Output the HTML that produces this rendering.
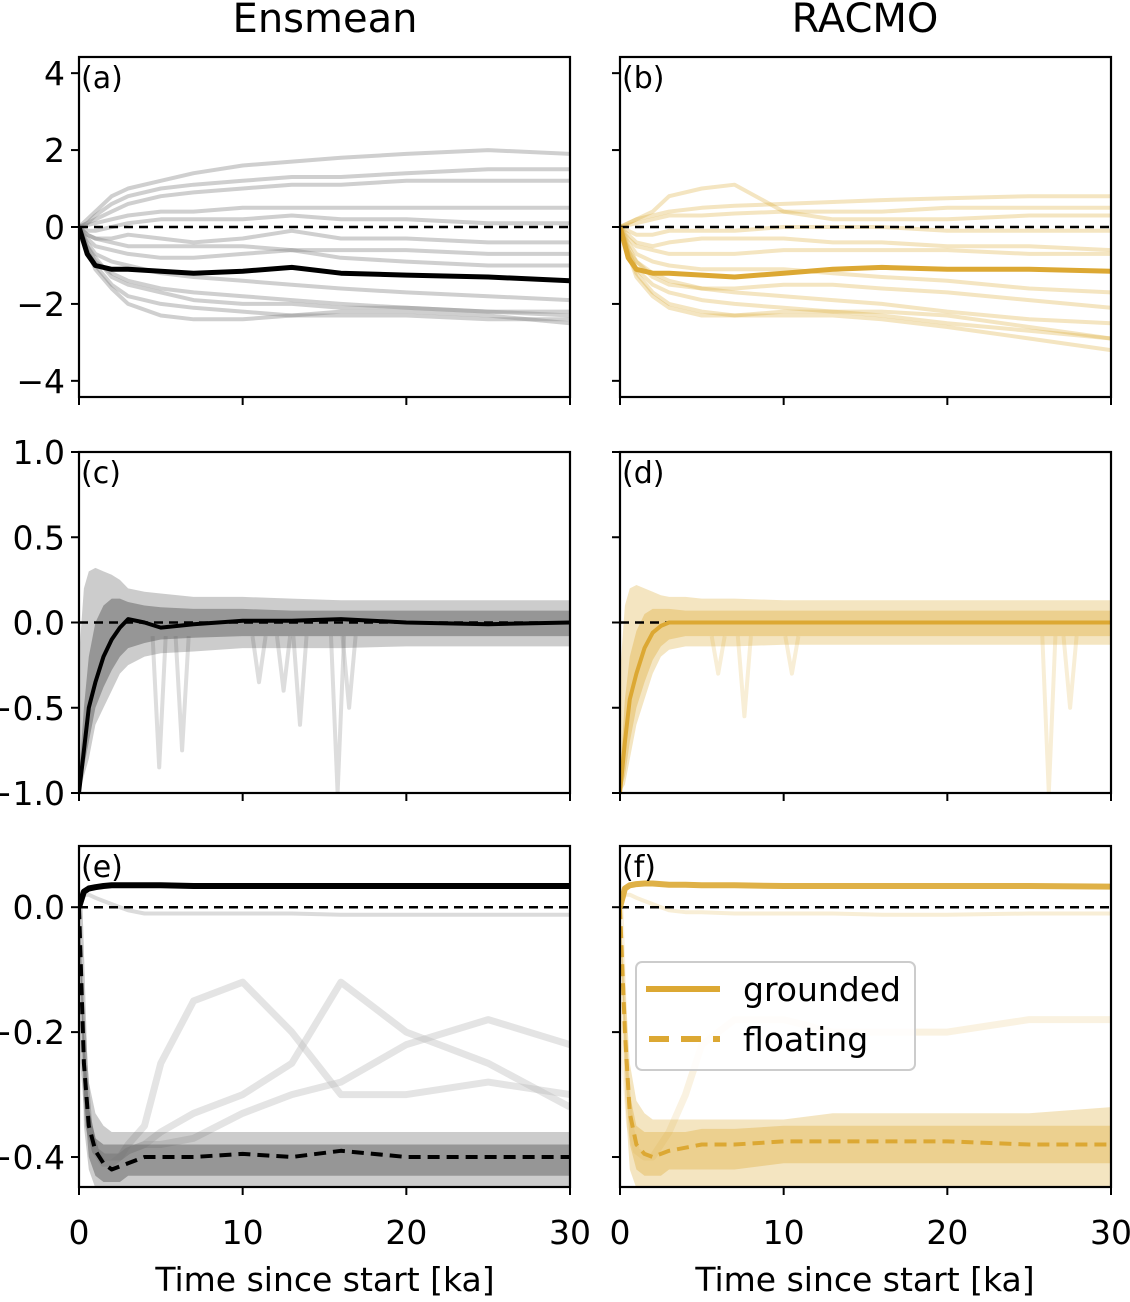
<!DOCTYPE html>
<html><head><meta charset="utf-8"><style>
body{margin:0;background:#fff}
svg text{font-family:"DejaVu Sans","Liberation Sans",sans-serif;fill:#000}
</style></head><body>
<svg id="fig" width="1130" height="1297" viewBox="0 0 1130 1297" xmlns="http://www.w3.org/2000/svg"></svg>
<script>
const xsA=[0,0.5,1,2,3,5,7,10,13,16,20,25,30];
const aMembers=[
[0,0.2,0.4,0.8,1.0,1.2,1.4,1.6,1.7,1.8,1.9,2.0,1.9],
[0,0.1,0.3,0.6,0.8,1.0,1.1,1.2,1.3,1.3,1.4,1.5,1.5],
[0,0.1,0.2,0.4,0.6,0.8,0.9,1.0,1.1,1.1,1.2,1.2,1.2],
[0,0.05,0.1,0.2,0.3,0.4,0.4,0.5,0.5,0.5,0.5,0.5,0.5],
[0,-0.1,-0.1,0,0.1,0.2,0.2,0.2,0.3,0.2,0.2,0.1,0.1],
[0,-0.2,-0.3,-0.4,-0.5,-0.5,-0.5,-0.5,-0.6,-0.6,-0.6,-0.7,-0.7],
[0,-0.3,-0.5,-0.6,-0.7,-0.8,-0.8,-0.7,-0.6,-0.8,-0.9,-1.0,-1.0],
[0,-0.4,-0.7,-0.9,-1.0,-1.2,-1.3,-1.4,-1.5,-1.6,-1.7,-1.8,-1.9],
[0,-0.5,-0.9,-1.2,-1.4,-1.6,-1.7,-1.8,-1.9,-2.0,-2.1,-2.2,-2.3],
[0,-0.6,-1.0,-1.5,-1.8,-2.0,-2.1,-2.2,-2.3,-2.3,-2.3,-2.4,-2.4],
[0,-0.6,-1.1,-1.6,-2.0,-2.3,-2.4,-2.4,-2.3,-2.2,-2.2,-2.3,-2.5],
[0,-0.2,-0.3,-0.3,-0.2,-0.3,-0.4,-0.3,-0.1,-0.3,-0.3,-0.4,-0.4],
[0,-0.5,-0.8,-1.3,-1.5,-1.7,-1.9,-2.0,-2.0,-2.1,-2.1,-2.2,-2.2]];
const aMean=[0,-0.7,-1.0,-1.1,-1.1,-1.15,-1.2,-1.15,-1.05,-1.2,-1.25,-1.3,-1.4];
const bMembers=[
[0,0.1,0.2,0.3,0.4,0.5,0.55,0.6,0.65,0.7,0.75,0.8,0.8],
[0,0.1,0.2,0.4,0.8,1.0,1.1,0.4,0.2,0.2,0.2,0.3,0.3],
[0,0.05,0.1,0.2,0.3,0.3,0.35,0.4,0.4,0.4,0.5,0.5,0.5],
[0,-0.1,-0.2,-0.2,-0.1,-0.1,-0.1,0,0,0,-0.1,-0.1,-0.1],
[0,-0.3,-0.5,-0.6,-0.7,-0.7,-0.7,-0.6,-0.6,-0.6,-0.6,-0.7,-0.7],
[0,-0.4,-0.7,-0.9,-1.0,-1.1,-1.1,-1.1,-1.2,-1.3,-1.4,-1.6,-1.7],
[0,-0.6,-0.9,-1.2,-1.4,-1.6,-1.7,-1.8,-1.9,-2.0,-2.2,-2.4,-2.5],
[0,-0.6,-1.1,-1.5,-1.7,-1.9,-2.0,-2.1,-2.2,-2.3,-2.5,-2.7,-2.9],
[0,-0.7,-1.2,-1.7,-2.0,-2.2,-2.3,-2.3,-2.3,-2.4,-2.6,-2.9,-3.2],
[0,-0.7,-1.3,-1.8,-2.1,-2.3,-2.3,-2.2,-2.2,-2.2,-2.3,-2.6,-2.9],
[0,-0.5,-0.9,-1.3,-1.5,-1.6,-1.6,-1.5,-1.5,-1.6,-1.7,-1.9,-2.1],
[0,-0.2,-0.4,-0.5,-0.4,-0.3,-0.3,-0.3,-0.4,-0.4,-0.5,-0.5,-0.6]];
const bMean=[0,-0.8,-1.1,-1.2,-1.2,-1.25,-1.3,-1.2,-1.1,-1.05,-1.1,-1.1,-1.15];
const xsN=[0,0.3,0.6,1,1.5,2,2.5,3,4,5,7,10,13,16,20,25,30];
const cMean=[-1.0,-0.75,-0.5,-0.35,-0.2,-0.1,-0.03,0.02,0.0,-0.03,-0.01,0.01,0.01,0.02,0,-0.01,0];
const cUpper=[-0.2,0.2,0.3,0.32,0.3,0.28,0.25,0.2,0.18,0.17,0.15,0.15,0.14,0.13,0.13,0.13,0.13];
const cLower=[-1.0,-0.9,-0.8,-0.6,-0.5,-0.4,-0.3,-0.25,-0.2,-0.18,-0.17,-0.15,-0.15,-0.15,-0.14,-0.14,-0.14];
const cInUp=[-0.9,-0.5,-0.2,0.0,0.1,0.14,0.14,0.12,0.1,0.09,0.08,0.08,0.07,0.07,0.07,0.07,0.07];
const cInLo=[-1.0,-0.85,-0.7,-0.5,-0.38,-0.28,-0.2,-0.15,-0.12,-0.1,-0.09,-0.08,-0.08,-0.08,-0.08,-0.08,-0.08];
const cSpikeX=[4.9,6.3,11,12.5,13.5,15.8,16.5];
const cSpikeY=[-0.85,-0.75,-0.35,-0.4,-0.6,-1.0,-0.5];
const dMean=[-1.0,-0.7,-0.45,-0.3,-0.15,-0.06,-0.02,0.0,0.0,0.0,0.0,0.0,0.0,0.0,0.0,0.0,0.0];
const dUpper=[-0.3,0.1,0.2,0.22,0.2,0.18,0.16,0.15,0.15,0.14,0.14,0.13,0.13,0.13,0.13,0.13,0.13];
const dLower=[-1.0,-0.95,-0.8,-0.6,-0.45,-0.3,-0.2,-0.16,-0.14,-0.14,-0.14,-0.13,-0.13,-0.13,-0.13,-0.13,-0.13];
const dInUp=[-0.9,-0.45,-0.2,-0.05,0.05,0.08,0.08,0.08,0.07,0.07,0.07,0.07,0.07,0.07,0.07,0.07,0.07];
const dInLo=[-1.0,-0.9,-0.7,-0.5,-0.35,-0.22,-0.14,-0.1,-0.08,-0.08,-0.08,-0.08,-0.08,-0.08,-0.08,-0.08,-0.08];
const dSpikeX=[6,7.6,10.5,26.2,27.5];
const dSpikeY=[-0.3,-0.55,-0.3,-1.0,-0.5];
const eGround=[0,0.025,0.03,0.032,0.034,0.035,0.035,0.035,0.035,0.035,0.034,0.034,0.034,0.034,0.034,0.034,0.034];
const eGroundLow=[0,0.02,0.02,0.015,0.01,0.005,0.0,-0.005,-0.01,-0.01,-0.01,-0.01,-0.01,-0.012,-0.012,-0.012,-0.012];
const eFloatMean=[0,-0.25,-0.35,-0.39,-0.41,-0.42,-0.415,-0.41,-0.40,-0.40,-0.40,-0.395,-0.40,-0.39,-0.40,-0.40,-0.40];
const eFloatUp=[0,-0.15,-0.28,-0.33,-0.35,-0.36,-0.36,-0.36,-0.36,-0.36,-0.36,-0.36,-0.36,-0.36,-0.36,-0.36,-0.36];
const eFloatLow=[0,-0.35,-0.42,-0.45,-0.45,-0.45,-0.45,-0.45,-0.45,-0.45,-0.45,-0.45,-0.45,-0.45,-0.45,-0.45,-0.45];
const eInUp=[0,-0.2,-0.32,-0.37,-0.38,-0.38,-0.38,-0.38,-0.38,-0.38,-0.38,-0.38,-0.38,-0.38,-0.38,-0.38,-0.38];
const eInLo=[0,-0.3,-0.4,-0.43,-0.44,-0.44,-0.44,-0.43,-0.43,-0.43,-0.43,-0.43,-0.43,-0.43,-0.43,-0.43,-0.43];
const eOutA=[0,-0.25,-0.35,-0.39,-0.41,-0.41,-0.40,-0.38,-0.35,-0.25,-0.15,-0.12,-0.2,-0.3,-0.3,-0.28,-0.3];
const eOutB=[0,-0.25,-0.35,-0.39,-0.40,-0.40,-0.40,-0.39,-0.38,-0.36,-0.33,-0.30,-0.25,-0.12,-0.2,-0.25,-0.32];
const eOutC=[0,-0.25,-0.35,-0.39,-0.40,-0.40,-0.40,-0.39,-0.38,-0.38,-0.37,-0.33,-0.3,-0.28,-0.22,-0.18,-0.22];
const fGround=[0,0.03,0.035,0.037,0.038,0.038,0.037,0.036,0.036,0.035,0.035,0.034,0.034,0.034,0.034,0.034,0.033];
const fGroundLow=[0,0.02,0.02,0.015,0.01,0.005,0,-0.005,-0.008,-0.008,-0.01,-0.01,-0.01,-0.012,-0.012,-0.01,-0.01];
const fFloatMean=[0,-0.2,-0.33,-0.38,-0.395,-0.40,-0.395,-0.39,-0.385,-0.38,-0.38,-0.375,-0.375,-0.375,-0.375,-0.38,-0.38];
const fFloatUp=[0,-0.12,-0.25,-0.31,-0.33,-0.34,-0.34,-0.34,-0.34,-0.34,-0.34,-0.34,-0.33,-0.33,-0.33,-0.33,-0.32];
const fFloatLow=[0,-0.3,-0.42,-0.45,-0.45,-0.45,-0.45,-0.45,-0.45,-0.45,-0.45,-0.45,-0.45,-0.45,-0.45,-0.45,-0.45];
const fInUp=[0,-0.16,-0.3,-0.35,-0.36,-0.36,-0.36,-0.36,-0.36,-0.355,-0.355,-0.35,-0.35,-0.35,-0.35,-0.35,-0.35];
const fInLo=[0,-0.25,-0.38,-0.42,-0.43,-0.43,-0.43,-0.42,-0.42,-0.42,-0.42,-0.41,-0.41,-0.41,-0.41,-0.41,-0.41];
const fOut=[0,-0.25,-0.35,-0.39,-0.40,-0.40,-0.38,-0.36,-0.3,-0.22,-0.18,-0.18,-0.2,-0.2,-0.2,-0.18,-0.18];

const NS="http://www.w3.org/2000/svg";
const svg=document.getElementById('fig');
const GOLD='#dca833';
function mk(tag,attrs,parent){const e=document.createElementNS(NS,tag);for(const k in attrs)e.setAttribute(k,attrs[k]);(parent||svg).appendChild(e);return e;}
const cols=[79,620], W=491;
const rows=[{top:57,bot:397,ymin:-4.42,ymax:4.42,ticks:[-4,-2,0,2,4],lab:['\u22124','\u22122','0','2','4']},
 {top:452,bot:793,ymin:-1,ymax:1,ticks:[-1,-0.5,0,0.5,1],lab:['\u22121.0','\u22120.5','0.0','0.5','1.0']},
 {top:846,bot:1187,ymin:-0.448,ymax:0.098,ticks:[-0.4,-0.2,0],lab:['\u22120.4','\u22120.2','0.0']}];
function axes(c,r){const x0=cols[c];const R=rows[r];
 return {X:v=>x0+v/30*W,Y:v=>R.bot-(v-R.ymin)/(R.ymax-R.ymin)*(R.bot-R.top)};}
function line(g,A,xs,ys,stroke,w,op,dash){
 const d=xs.map((x,i)=>(i?'L':'M')+A.X(x).toFixed(1)+','+A.Y(ys[i]).toFixed(1)).join('');
 const p=mk('path',{d:d,fill:'none',stroke:stroke,'stroke-width':w,'stroke-opacity':op,'stroke-linejoin':'round'},g);
 if(dash)p.setAttribute('stroke-dasharray',dash);return p;}
function band(g,A,xs,up,lo,fill,op){
 let d=xs.map((x,i)=>(i?'L':'M')+A.X(x).toFixed(1)+','+A.Y(up[i]).toFixed(1)).join('');
 for(let i=xs.length-1;i>=0;i--)d+='L'+A.X(xs[i]).toFixed(1)+','+A.Y(lo[i]).toFixed(1);
 return mk('path',{d:d+'Z',fill:fill,'fill-opacity':op,stroke:'none'},g);}
const letters=[['(a)','(b)'],['(c)','(d)'],['(e)','(f)']];
for(let r=0;r<3;r++)for(let c=0;c<2;c++){
 const A=axes(c,r),R=rows[r],x0=cols[c];
 const g=mk('g',{'clip-path':'url(#cp'+r+c+')'});
 
 
 const cp=mk('clipPath',{id:'cp'+r+c});mk('rect',{x:x0,y:R.top,width:W,height:R.bot-R.top},cp);
 const col=c?GOLD:'#555';
 if(r===0){
  const mem=c?bMembers:aMembers;
  mem.forEach(m=>{const p=line(g,A,xsA,m,c?GOLD:'#888',4,c?0.3:0.4);});
  line(g,A,[0,30],[0,0],'#000',2.5,1,'9,6');
  const p=line(g,A,xsA,c?bMean:aMean,c?GOLD:'#000',5,1);
 } else if(r===1){
  const sx=c?dSpikeX:cSpikeX,sy=c?dSpikeY:cSpikeY;
  sx.forEach((x,i)=>{const p=line(g,A,[x-0.4,x,x+0.4],[-0.08,sy[i],-0.08],c?GOLD:'#bbb',4,c?0.2:0.5);});
  const b=band(g,A,xsN,c?dUpper:cUpper,c?dLower:cLower,col,0.3);
  const b2=band(g,A,xsN,c?dInUp:cInUp,c?dInLo:cInLo,col,c?0.35:0.45);
  line(g,A,[0,30],[0,0],'#000',2.5,1,'9,6');
  const p=line(g,A,xsN,c?dMean:cMean,c?GOLD:'#000',4,1);
 } else {
  const outs=c?[fOut]:[eOutA,eOutB,eOutC];
  outs.forEach(o=>{const p=line(g,A,xsN,o,c?GOLD:'#bbb',7,c?0.15:0.4);});
  const b=band(g,A,xsN,c?fFloatUp:eFloatUp,c?fFloatLow:eFloatLow,col,0.3);
  const b2=band(g,A,xsN,c?fInUp:eInUp,c?fInLo:eInLo,col,c?0.35:0.45);
  const gl=line(g,A,xsN,c?fGroundLow:eGroundLow,c?GOLD:'#999',4,c?0.2:0.35);
  line(g,A,[0,30],[0,0],'#000',2.5,1,'9,6');
  const gm=line(g,A,xsN,c?fGround:eGround,c?GOLD:'#000',6,c?0.9:1);
  const fm=line(g,A,xsN,c?fFloatMean:eFloatMean,c?GOLD:'#000',4,1,'12,7');
 }
 const fr=mk('rect',{x:x0,y:R.top,width:W,height:R.bot-R.top,fill:'none',stroke:'#000','stroke-width':2.2});
 
 R.ticks.forEach((t,i)=>{const y=A.Y(t);mk('line',{x1:x0-8,x2:x0,y1:y,y2:y,stroke:'#000','stroke-width':2});
  if(c===0){const tx=mk('text',{x:x0-14,y:y+12,'font-size':33,'text-anchor':'end'});tx.textContent=R.lab[i];
   }});
 [0,10,20,30].forEach(t=>{const x=A.X(t);mk('line',{x1:x,x2:x,y1:R.bot,y2:R.bot+8,stroke:'#000','stroke-width':2});
  if(r===2){const tx=mk('text',{x:x,y:R.bot+57,'font-size':33,'text-anchor':'middle'});tx.textContent=t;
   }});
 const lt=mk('text',{x:x0+2,y:R.top+31,'font-size':30});lt.textContent=letters[r][c];
 
}
[['Ensmean',325],['RACMO',865]].forEach(([t,x])=>{const e=mk('text',{x:x,y:32,'font-size':40,'text-anchor':'middle'});e.textContent=t;
 });
[325,865].forEach(x=>{const e=mk('text',{x:x,y:1291,'font-size':33,'text-anchor':'middle'});e.textContent='Time since start [ka]';
 });
const lg=mk('g',{});


mk('rect',{x:636,y:962,width:279,height:108,rx:6,fill:'#fff','fill-opacity':0.85,stroke:'#ccc','stroke-width':2},lg);
mk('line',{x1:646,x2:720,y1:989,y2:989,stroke:GOLD,'stroke-width':6},lg);
mk('line',{x1:649,x2:720,y1:1039,y2:1039,stroke:GOLD,'stroke-width':6,'stroke-dasharray':'20,12'},lg);
const l1=mk('text',{x:743,y:1001,'font-size':33},lg);l1.textContent='grounded';

const l2=mk('text',{x:743,y:1051,'font-size':33},lg);l2.textContent='floating';

</script>
</body></html>
